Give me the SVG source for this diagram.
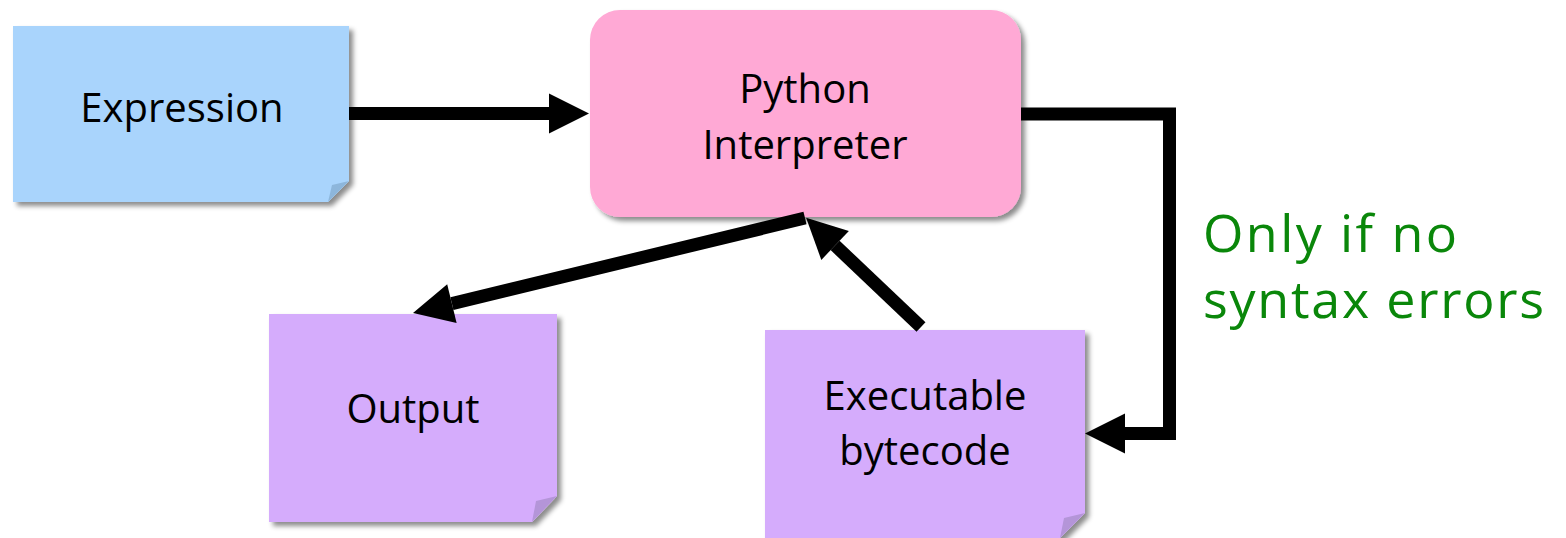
<svg xmlns="http://www.w3.org/2000/svg" width="1566" height="538" viewBox="0 0 1566 538">
  <defs>
    <filter id="shadow" x="-10%" y="-10%" width="130%" height="130%">
      <feDropShadow dx="4" dy="4" stdDeviation="2.5" flood-color="#000" flood-opacity="0.45"/>
    </filter>
    <!-- arrowhead drawn forward from the end of each connector -->
    <marker id="head" markerUnits="userSpaceOnUse" markerWidth="42" markerHeight="42" refX="0" refY="20" orient="auto" overflow="visible">
      <path d="M0,0 L40,20 L0,40 Z" fill="#000"/>
    </marker>
  </defs>
  <style>
    .label { font-family: "Open Sans", "Noto Sans", "DejaVu Sans", sans-serif; font-size: 40px; fill: #000; text-anchor: middle; }
    .note-blue { fill: #A9D4FC; }
    .fold-blue { fill: #8DB6DB; }
    .note-purple { fill: #D5ACFC; }
    .fold-purple { fill: #B495D8; }
    .box-pink { fill: #FFA9D5; }
    .conn { fill: none; stroke: #000; stroke-width: 13; stroke-linejoin: miter; stroke-linecap: butt; marker-end: url(#head); }
    .note-text { font-family: "Open Sans", "Noto Sans", sans-serif; font-size: 52px; fill: #0A870A; }
  </style>

  <rect width="1566" height="538" fill="#fff"/>

  <g id="expression">
    <polygon class="note-blue" filter="url(#shadow)" points="13,26 349,26 349,181 328,202 13,202"/>
    <polygon class="fold-blue" points="328,202 332,185 349,181"/>
    <text class="label" x="182" y="122">Expression</text>
  </g>

  <g id="interpreter">
    <rect class="box-pink" filter="url(#shadow)" x="590" y="10" width="431" height="207" rx="30" ry="30"/>
    <text class="label" x="805" y="103">Python</text>
    <text class="label" x="805" y="159">Interpreter</text>
  </g>

  <g id="output">
    <polygon class="note-purple" filter="url(#shadow)" points="269,314 557,314 557,496 532,522 269,522"/>
    <polygon class="fold-purple" points="532,522 536,501 557,496"/>
    <text class="label" x="413" y="423">Output</text>
  </g>

  <g id="bytecode">
    <polygon class="note-purple" filter="url(#shadow)" points="765,330 1085,330 1085,513 1060,538 765,538"/>
    <polygon class="fold-purple" points="1060,538 1064,518 1085,513"/>
    <text class="label" x="925" y="410">Executable</text>
    <text class="label" x="925" y="465">bytecode</text>
  </g>

  <g id="condition">
    <text class="note-text" x="1203" y="252" textLength="254" lengthAdjust="spacing">Only if no</text>
    <text class="note-text" x="1203" y="318" textLength="341" lengthAdjust="spacing">syntax errors</text>
  </g>

  <g id="connectors">
    <path class="conn" d="M349,113.5 H549"/>
    <path class="conn" d="M1021,114 H1169.5 V433.5 H1125"/>
    <path class="conn" d="M805,218 L451.9,303.6"/>
    <path class="conn" d="M921,327 L835.1,245.4"/>
  </g>
</svg>
